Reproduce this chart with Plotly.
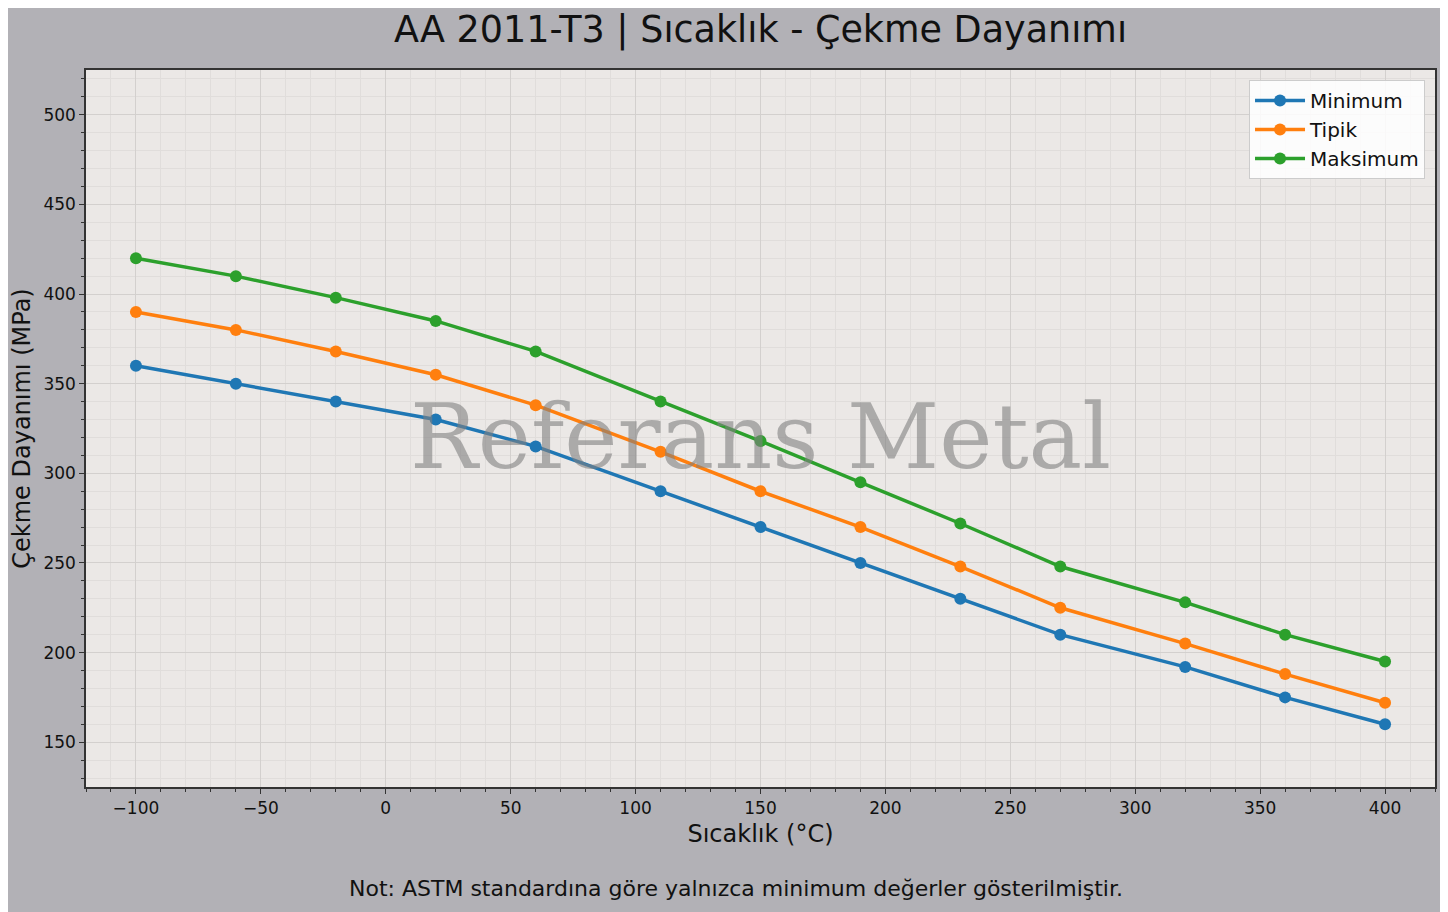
import plotly.graph_objects as go

# ==============================
# DATA
# ==============================
sicaklik = [-100, -60, -20, 20, 60, 110, 150, 190, 230, 270, 320, 360, 400]
minimum = [360, 350, 340, 330, 315, 290, 270, 250, 230, 210, 192, 175, 160]
tipik = [390, 380, 368, 355, 338, 312, 290, 270, 248, 225, 205, 188, 172]
maksimum = [420, 410, 398, 385, 368, 340, 318, 295, 272, 248, 228, 210, 195]

series = [
    ("Minimum", minimum, "#1f77b4"),
    ("Tipik", tipik, "#ff7f0e"),
    ("Maksimum", maksimum, "#2ca02c"),
]

FONT = "DejaVu Sans"

# page has an 8px body margin, so the figure is drawn 8px smaller
W, H = 1440, 904

# ==============================
# PLOT
# ==============================
fig = go.Figure()

for name, vals, color in series:
    fig.add_trace(go.Scatter(
        x=sicaklik,
        y=vals,
        name=name,
        mode="lines+markers",
        line=dict(color=color, width=3.5),
        marker=dict(color=color, size=12),
    ))

# watermark
fig.add_annotation(
    text="Referans Metal",
    xref="paper", yref="paper", x=0.5, y=0.489,
    showarrow=False,
    font=dict(family="DejaVu Serif", size=90, color="rgba(128,128,128,0.6)"),
)

# footnote
fig.add_annotation(
    text="Not: ASTM standardına göre yalnızca minimum değerler gösterilmiştir.",
    xref="paper", yref="paper", x=0.482, y=-0.142,
    xanchor="center", yanchor="middle",
    showarrow=False,
    font=dict(family=FONT, size=22, color="#111111"),
)

axis_common = dict(
    showline=True, mirror=True, linecolor="#333333", linewidth=1.5,
    ticks="outside", ticklen=5, tickwidth=1, tickcolor="#333333",
    showgrid=True, gridcolor="#d3d0ce", gridwidth=1,
    zeroline=False,
    tickfont=dict(family=FONT, size=17, color="#111111"),
    minor=dict(
        dtick=10, ticks="outside", ticklen=3, tickcolor="#333333",
        showgrid=True, gridcolor="#e0dddb", gridwidth=0.6,
    ),
)

fig.update_xaxes(
    range=[-120, 420], dtick=50, tick0=0,
    title=dict(text="Sıcaklık (°C)", font=dict(family=FONT, size=24, color="#111111"), standoff=8),
    **axis_common,
)
fig.update_yaxes(
    range=[125, 525], dtick=50, tick0=0,
    title=dict(text="Çekme Dayanımı (MPa)", font=dict(family=FONT, size=24, color="#111111"), standoff=8),
    **axis_common,
)

fig.update_layout(
    width=W, height=H,
    margin=dict(l=77, r=11, t=62, b=125),
    paper_bgcolor="#b2b1b6",
    plot_bgcolor="#ebe8e6",
    font=dict(family=FONT, color="#111111"),
    title=dict(
        text="AA 2011-T3 | Sıcaklık - Çekme Dayanımı",
        x=0.5, xref="paper", xanchor="center",
        y=1 - 21 / H, yanchor="middle",
        font=dict(family=FONT, size=36.5, color="#111111"),
    ),
    legend=dict(
        x=0.9926, y=0.986, xanchor="right", yanchor="top",
        bgcolor="rgba(255,255,255,0.85)",
        bordercolor="#cccccc", borderwidth=1,
        font=dict(family=FONT, size=20, color="#111111"),
        itemwidth=50,
    ),
)

fig.write_html("out.html")
